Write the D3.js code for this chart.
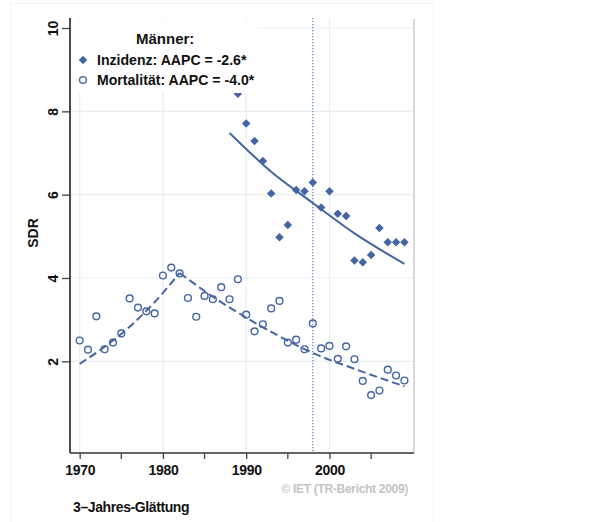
<!DOCTYPE html>
<html><head><meta charset="utf-8">
<script src="https://cdn.jsdelivr.net/npm/d3@7"></script>
<style>body{margin:0;background:#fff}svg{display:block}text{font-family:"Liberation Sans",Arial,sans-serif}</style>
</head><body><svg id="c" width="607" height="522"></svg>
<script>
// ---- data ----
const incYears = [1989,1990,1991,1992,1993,1994,1995,1996,1997,1998,1999,2000,2001,2002,2003,2004,2005,2006,2007,2008,2009];
const incValues = [8.42,7.71,7.29,6.81,6.03,4.98,5.27,6.11,6.08,6.29,5.69,6.08,5.54,5.49,4.42,4.38,4.55,5.20,4.86,4.86,4.86];
const incTrendYears = [1988,1993,1998,2003,2009];
const incTrendValues = [7.48,6.55,5.80,5.07,4.34];
const morYears = [1970,1971,1972,1973,1974,1975,1976,1977,1978,1979,1980,1981,1982,1983,1984,1985,1986,1987,1988,1989,1990,1991,1992,1993,1994,1995,1996,1997,1998,1999,2000,2001,2002,2003,2004,2005,2006,2007,2008,2009];
const morValues = [2.50,2.28,3.08,2.29,2.45,2.67,3.51,3.29,3.20,3.15,4.06,4.25,4.11,3.52,3.07,3.57,3.49,3.78,3.49,3.97,3.12,2.72,2.89,3.27,3.45,2.45,2.52,2.29,2.91,2.31,2.37,2.06,2.36,2.05,1.53,1.19,1.30,1.80,1.66,1.54];
const morTrend1Years = [1970,1973,1976,1979,1982];
const morTrend1Values = [1.94,2.35,2.83,3.42,4.12];
const morTrend2Years = [1982,1986,1990,1994,1998,2003,2009];
const morTrend2Values = [4.12,3.55,3.05,2.60,2.20,1.82,1.40];
const xTicks = [1970,1980,1990,2000];
const xMinorTicks = [1975,1985,1995,2005];
const yTicks = [2,4,6,8,10];
const gridX = [1970,1980,1990,2000];
const refYear = 1998;
const legendTitle = "Männer:";
const legendLabels = ["Inzidenz: AAPC = -2.6*", "Mortalität: AAPC = -4.0*"];
const yTitle = "SDR";
const noteText = "3–Jahres-Glättung";
const sourceText = "© IET (TR-Bericht 2009)";

const col = "#4464a3";
const svg = d3.select("#c");
const x = d3.scaleLinear().domain([1968.84, 2010.15]).range([70, 414]);
const y = d3.scaleLinear().domain([-0.2, 10.24]).range([453, 18]);

// faint outer frame
svg.append("rect").attr("x",10.5).attr("y",3.5).attr("width",423).attr("height",520)
  .attr("fill","none").attr("stroke","#f3f5f5");

// grid
const g = svg.append("g");
g.selectAll(".gy").data(yTicks).join("line")
  .attr("x1",70).attr("x2",414).attr("y1",d=>y(d)).attr("y2",d=>y(d))
  .attr("stroke","#e7eff0").attr("stroke-width",1.2);
g.selectAll(".gx").data(gridX).join("line")
  .attr("y1",18).attr("y2",453).attr("x1",d=>x(d)).attr("x2",d=>x(d))
  .attr("stroke","#e7eff0").attr("stroke-width",1.2);
// right border
svg.append("line").attr("x1",414).attr("x2",414).attr("y1",19).attr("y2",453)
  .attr("stroke","#d8d8d8").attr("stroke-width",2);

// reference line
svg.append("line").attr("x1",x(refYear)).attr("x2",x(refYear)).attr("y1",18).attr("y2",453)
  .attr("stroke","#6d86bd").attr("stroke-width",1.3).attr("stroke-dasharray","1.3,1.7");

// trends
const line = d3.line().x(d=>x(d[0])).y(d=>y(d[1])).curve(d3.curveMonotoneX);
svg.append("path").attr("d", line(d3.zip(incTrendYears, incTrendValues)))
  .attr("fill","none").attr("stroke",col).attr("stroke-width",2);
svg.append("path").attr("d", line(d3.zip(morTrend1Years, morTrend1Values)))
  .attr("fill","none").attr("stroke",col).attr("stroke-width",2).attr("stroke-dasharray","8,4");
svg.append("path").attr("d", line(d3.zip(morTrend2Years, morTrend2Values)))
  .attr("fill","none").attr("stroke",col).attr("stroke-width",2).attr("stroke-dasharray","8,4");

// points
const diamond = d3.symbol().type(d3.symbolDiamond2).size(46);
svg.selectAll(".inc").data(d3.zip(incYears, incValues)).join("path")
  .attr("d", diamond).attr("transform", d=>`translate(${x(d[0])},${y(d[1])})`).attr("fill",col);
svg.selectAll(".mor").data(d3.zip(morYears, morValues)).join("circle")
  .attr("cx", d=>x(d[0])).attr("cy", d=>y(d[1])).attr("r",3.4)
  .attr("fill","none").attr("stroke",col).attr("stroke-width",1.4);

// legend
const lg = svg.append("g");
lg.append("rect").attr("x",73).attr("y",20).attr("width",184).attr("height",73).attr("fill","#fff");
lg.append("text").attr("x",136).attr("y",44).attr("font-size",15).attr("font-weight","bold").attr("fill","#111").text(legendTitle);
lg.append("path").attr("d",diamond).attr("transform","translate(83,60)").attr("fill",col);
lg.append("circle").attr("cx",83).attr("cy",80).attr("r",3.4).attr("fill","none").attr("stroke",col).attr("stroke-width",1.4);
legendLabels.forEach((t,i)=>{
  lg.append("text").attr("x",97).attr("y",65+20*i).attr("font-size",14.1).attr("font-weight","bold")
    .attr("fill","#111").text(t);
});

// axes
const yAxis = d3.axisLeft(y).tickValues(yTicks).tickSize(8).tickPadding(4);
const ya = svg.append("g").attr("transform","translate(70,0)").call(yAxis);
ya.select(".domain").attr("d","M0,18V453").attr("stroke","#111").attr("stroke-width",1.5);
ya.selectAll(".tick line").attr("stroke","#444").attr("stroke-width",1.3);
ya.selectAll(".tick text").attr("transform","rotate(-90)").attr("x",0).attr("y",-12).attr("dy",0)
  .attr("text-anchor","middle").attr("font-size",14).attr("font-weight","bold").attr("fill","#111")
  .attr("font-family","Liberation Sans, Arial, sans-serif");
const xAxis = d3.axisBottom(x).tickValues(xTicks).tickSize(6).tickPadding(6).tickFormat(d3.format("d"));
const xa = svg.append("g").attr("transform","translate(0,453)").call(xAxis);
xa.select(".domain").attr("d","M70,0H414").attr("stroke","#333").attr("stroke-width",1.5);
xa.selectAll(".tick line").attr("stroke","#444").attr("stroke-width",1.3);
xa.selectAll(".tick text").attr("font-size",14).attr("font-weight","bold").attr("fill","#111")
  .attr("letter-spacing",-0.3).attr("font-family","Liberation Sans, Arial, sans-serif");
xa.selectAll(".minor").data(xMinorTicks).join("line").attr("class","minor")
  .attr("x1",d=>x(d)).attr("x2",d=>x(d)).attr("y1",0).attr("y2",6).attr("stroke","#444").attr("stroke-width",1.3);

// titles
svg.append("text").attr("transform","translate(38,233) rotate(-90)").attr("text-anchor","middle")
  .attr("font-size",14).attr("font-weight","bold").attr("fill","#111").text(yTitle);
svg.append("text").attr("x",73).attr("y",512).attr("font-size",14).attr("font-weight","bold")
  .attr("letter-spacing",-0.4).attr("fill","#111").text(noteText);
svg.append("text").attr("x",408).attr("y",493).attr("text-anchor","end").attr("font-size",12)
  .attr("font-weight","bold").attr("letter-spacing",-0.3).attr("fill","#c4c4c4").text(sourceText);
</script></body></html>
